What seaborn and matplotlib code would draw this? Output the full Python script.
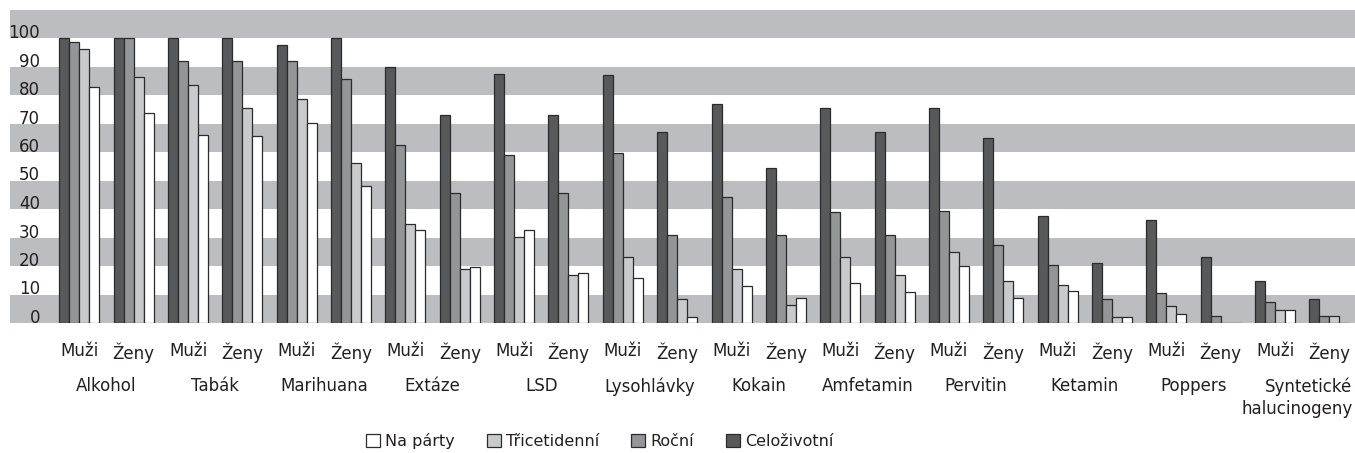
import matplotlib
matplotlib.use("Agg")
import matplotlib.pyplot as plt
from matplotlib.patches import Patch
import seaborn as sns
import pandas as pd

drugs = ["Alkohol", "Tabák", "Marihuana", "Extáze", "LSD", "Lysohlávky", "Kokain",
         "Amfetamin", "Pervitin", "Ketamin", "Poppers", "Syntetické\nhalucinogeny"]
sexes = ["Muži", "Ženy"]
measures = ["Celoživotní", "Roční", "Třicetidenní", "Na párty"]

# values per slot (drug x sex), order: Muži, Ženy for each drug
celozivotni = [100, 100, 100, 100, 97.5, 100, 89.8, 73.1, 87.4, 73.1, 86.9, 66.9,
               76.7, 54.3, 75.6, 66.9, 75.3, 64.8, 37.6, 21.0, 36.2, 23.1, 14.6, 8.5]
rocni = [98.6, 100, 92.0, 92.0, 92.0, 85.5, 62.4, 45.7, 58.9, 45.7, 59.6, 31.0,
         44.3, 31.0, 38.9, 31.0, 39.2, 27.2, 20.5, 8.4, 10.4, 2.3, 7.5, 2.3]
tricetidenni = [96.1, 86.2, 83.6, 75.6, 78.6, 56.2, 34.7, 19.1, 30.1, 16.9, 23.3, 8.4,
                19.1, 6.2, 23.1, 16.7, 24.8, 14.6, 13.2, 2.2, 6.1, 0, 4.4, 2.3]
na_party = [82.8, 73.8, 65.8, 65.5, 70.1, 47.9, 32.8, 19.7, 32.8, 17.6, 15.8, 2.2,
            12.9, 8.9, 14.2, 11.0, 20.1, 8.9, 11.4, 2.2, 3.0, 0, 4.4, 0]

slots = [f"{d}|{s}" for d in drugs for s in sexes]
series = {"Celoživotní": celozivotni, "Roční": rocni,
          "Třicetidenní": tricetidenni, "Na párty": na_party}
rows = []
for m, vals in series.items():
    for slot, v in zip(slots, vals):
        rows.append({"slot": slot, "measure": m, "value": v})
df = pd.DataFrame(rows)

palette = {"Celoživotní": "#58595b", "Roční": "#939598",
           "Třicetidenní": "#c9cacc", "Na párty": "#ffffff"}
band_color = "#bcbdc0"
text_color = "#231f20"

sns.set_style("white")
plt.rcParams["font.family"] = ["DejaVu Sans"]

fig = plt.figure(figsize=(13.55, 4.53), dpi=100)
ax = fig.add_axes([10 / 1355, 1 - 323 / 453, 1 - 10 / 1355, (323 - 9.5) / 453])

for lo in range(0, 110, 20):
    ax.axhspan(lo, lo + 10, color=band_color, zorder=0, lw=0)

sns.barplot(data=df, x="slot", y="value", hue="measure", order=slots,
            hue_order=measures, palette=palette, width=0.736, gap=0,
            edgecolor="#2b2b2b", linewidth=0.9, legend=False, ax=ax,
            zorder=2, errorbar=None)

ax.set_xlim(-1.275, 23.47)
ax.set_ylim(0, 110)
for sp in ax.spines.values():
    sp.set_visible(False)
ax.set_xlabel("")
ax.set_ylabel("")

ax.set_yticks(range(0, 101, 10))
ax.set_yticklabels([str(v) for v in range(0, 101, 10)])
ax.tick_params(axis="y", length=0, pad=-21.6, labelsize=12, colors=text_color)
for lab in ax.get_yticklabels():
    lab.set_verticalalignment("baseline")
    lab.set_horizontalalignment("right")

ax.set_xticks(range(len(slots)))
ax.set_xticklabels([s for d in drugs for s in sexes])
ax.tick_params(axis="x", which="major", length=0, pad=14, labelsize=12, colors=text_color)
minor_pos = [i * 2 + 0.5 for i in range(len(drugs))]
minor_pos[-1] = 23.42
ax.set_xticks(minor_pos, minor=True)
ax.set_xticklabels(drugs, minor=True)
ax.tick_params(axis="x", which="minor", length=0, pad=39, labelsize=12, colors=text_color)
last = ax.get_xticklabels(minor=True)[-1]
last.set_horizontalalignment("right")
last.set_multialignment("right")
last.set_linespacing(1.3)

handles = [Patch(facecolor=palette[m], edgecolor="#2b2b2b", linewidth=0.9, label=m)
           for m in reversed(measures)]
fig.legend(handles=handles, loc="center", ncol=4, frameon=False,
           bbox_to_anchor=(600 / 1355, 1 - 441 / 453), fontsize=11.5,
           handlelength=0.85, handleheight=0.85, handletextpad=0.35,
           columnspacing=2.0, labelcolor=text_color)

fig.savefig("out.png", dpi=100)
